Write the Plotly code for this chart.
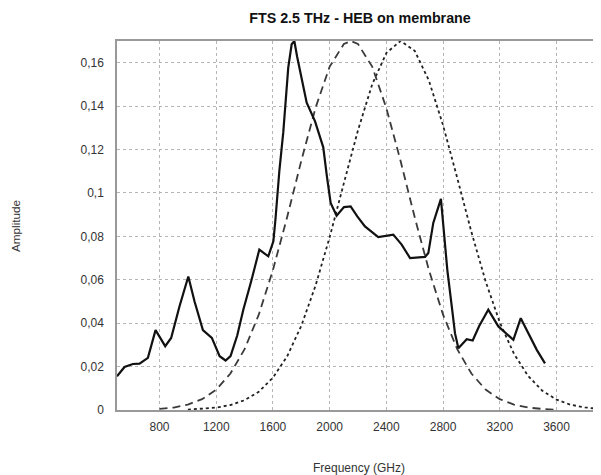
import plotly.graph_objects as go

# Measured spectrum (solid)
freq_meas = [500, 553, 612, 659, 718, 772, 840, 882, 941, 1003, 1047, 1106, 1169, 1224, 1266, 1301,
             1348, 1391, 1447, 1504, 1567, 1603, 1618, 1645, 1673, 1708, 1732, 1751, 1770, 1800,
             1838, 1897, 1955, 1980, 2007, 2049, 2101, 2148, 2195, 2249, 2297, 2343, 2449, 2508,
             2567, 2673, 2696, 2731, 2785, 2830, 2861, 2884, 2908, 2967, 3009, 3054, 3119, 3190,
             3296, 3348, 3461, 3519]
amp_meas = [0.0155, 0.0198, 0.0212, 0.0214, 0.024, 0.0368, 0.0294, 0.0332, 0.0478, 0.0615, 0.050,
            0.0368, 0.0332, 0.0248, 0.0228, 0.0248, 0.0343, 0.0462, 0.0594, 0.0739, 0.0708, 0.0777,
            0.088, 0.110, 0.128, 0.1577, 0.1685, 0.170, 0.163, 0.153, 0.1416, 0.133, 0.121, 0.108,
            0.0954, 0.0895, 0.0935, 0.0938, 0.0892, 0.0846, 0.0823, 0.0797, 0.0808, 0.0762, 0.070,
            0.0705, 0.0723, 0.0862, 0.0973, 0.0646, 0.048, 0.0354, 0.0285, 0.0326, 0.032, 0.0386,
            0.0462, 0.0385, 0.0323, 0.0423, 0.0277, 0.0215]

# Dashed curve
freq_dash = [800, 900, 1000, 1100, 1200, 1300, 1400, 1500, 1600, 1700, 1800, 1900, 2000, 2100,
             2150, 2200, 2300, 2400, 2500, 2600, 2700, 2800, 2900, 3000, 3100, 3200, 3300, 3400,
             3500, 3580]
amp_dash = [0.0005, 0.0011, 0.0025, 0.0050, 0.0094, 0.0168, 0.0280, 0.0439, 0.0645, 0.0888,
            0.1148, 0.1391, 0.1582, 0.1686, 0.1700, 0.1686, 0.1582, 0.1391, 0.1148, 0.0888,
            0.0645, 0.0439, 0.0280, 0.0168, 0.0094, 0.0050, 0.0025, 0.0011, 0.0005, 0.0002]

# Dotted curve
freq_dot = [1000, 1100, 1200, 1300, 1400, 1500, 1600, 1700, 1800, 1900, 2000, 2100, 2200, 2300,
            2400, 2500, 2600, 2700, 2800, 2900, 3000, 3100, 3200, 3300, 3400, 3500, 3600, 3700,
            3800, 3900]
amp_dot = [0.0002, 0.0005, 0.0011, 0.0023, 0.0045, 0.0084, 0.0149, 0.0247, 0.0388, 0.0572,
           0.0796, 0.1044, 0.1289, 0.1500, 0.1645, 0.1700, 0.1655, 0.1518, 0.1312, 0.1069,
           0.0820, 0.0593, 0.0404, 0.0259, 0.0157, 0.0089, 0.0048, 0.0024, 0.0012, 0.0005]

x_ticks = [800, 1200, 1600, 2000, 2400, 2800, 3200, 3600]
x_labels = ["800", "1200", "1600", "2000", "2400", "2800", "3200", "3600"]
y_ticks = [0, 0.02, 0.04, 0.06, 0.08, 0.10, 0.12, 0.14, 0.16]
y_labels = ["0", "0,02", "0,04", "0,06", "0,08", "0,1", "0,12", "0,14", "0,16"]

fig = go.Figure()
fig.add_trace(go.Scatter(x=freq_dot, y=amp_dot, mode="lines",
                         line=dict(color="#222222", width=1.8, dash="dot")))
fig.add_trace(go.Scatter(x=freq_dash, y=amp_dash, mode="lines",
                         line=dict(color="#3a3a3a", width=1.8, dash="8px,5px")))
fig.add_trace(go.Scatter(x=freq_meas, y=amp_meas, mode="lines",
                         line=dict(color="#111111", width=2.2)))

# page has an 8px body margin; figure is sized to fit the 601x475 window
W, H = 593, 467
ML, MR, MT, MB = 109, 2, 33, 65
PW, PH = W - ML - MR, H - MT - MB

font_family = "Liberation Sans, Arial, sans-serif"
fig.update_layout(
    width=W, height=H,
    margin=dict(l=ML, r=MR, t=MT, b=MB),
    paper_bgcolor="white", plot_bgcolor="white",
    showlegend=False,
    font=dict(family=font_family, size=12, color="#333333"),
    title=dict(text="<b>FTS 2.5 THz - HEB on membrane</b>", x=352 / W, xanchor="center",
               y=1 - 9.7 / H, yanchor="middle", font=dict(size=14.3, color="#111111")),
    annotations=[
        dict(text="Amplitude", xref="paper", yref="paper", x=(8 - ML) / PW, y=(MT + PH - (226 - 8)) / PH,
             showarrow=False, textangle=-90, font=dict(size=11.7, color="#333333"),
             xanchor="center", yanchor="middle"),
        dict(text="Frequency (GHz)", xref="paper", yref="paper", x=(359 - 8 - ML) / PW,
             y=-58 / PH, showarrow=False,
             font=dict(size=12, color="#333333"), xanchor="center", yanchor="middle"),
    ],
)
fig.update_xaxes(range=[500, 3900], tickvals=x_ticks, ticktext=x_labels,
                 showgrid=True, gridcolor="#b5b5b5", griddash="dot", gridwidth=1,
                 showline=True, linecolor="#999999", linewidth=1.5, mirror=True,
                 ticks="", zeroline=False, ticklabelstandoff=5)
fig.update_yaxes(range=[0, 0.17], tickvals=y_ticks, ticktext=y_labels,
                 showgrid=True, gridcolor="#b5b5b5", griddash="dot", gridwidth=1,
                 showline=True, linecolor="#999999", linewidth=1.5,
                 ticks="", zeroline=False, ticklabelstandoff=9)

fig.write_html("out.html")
